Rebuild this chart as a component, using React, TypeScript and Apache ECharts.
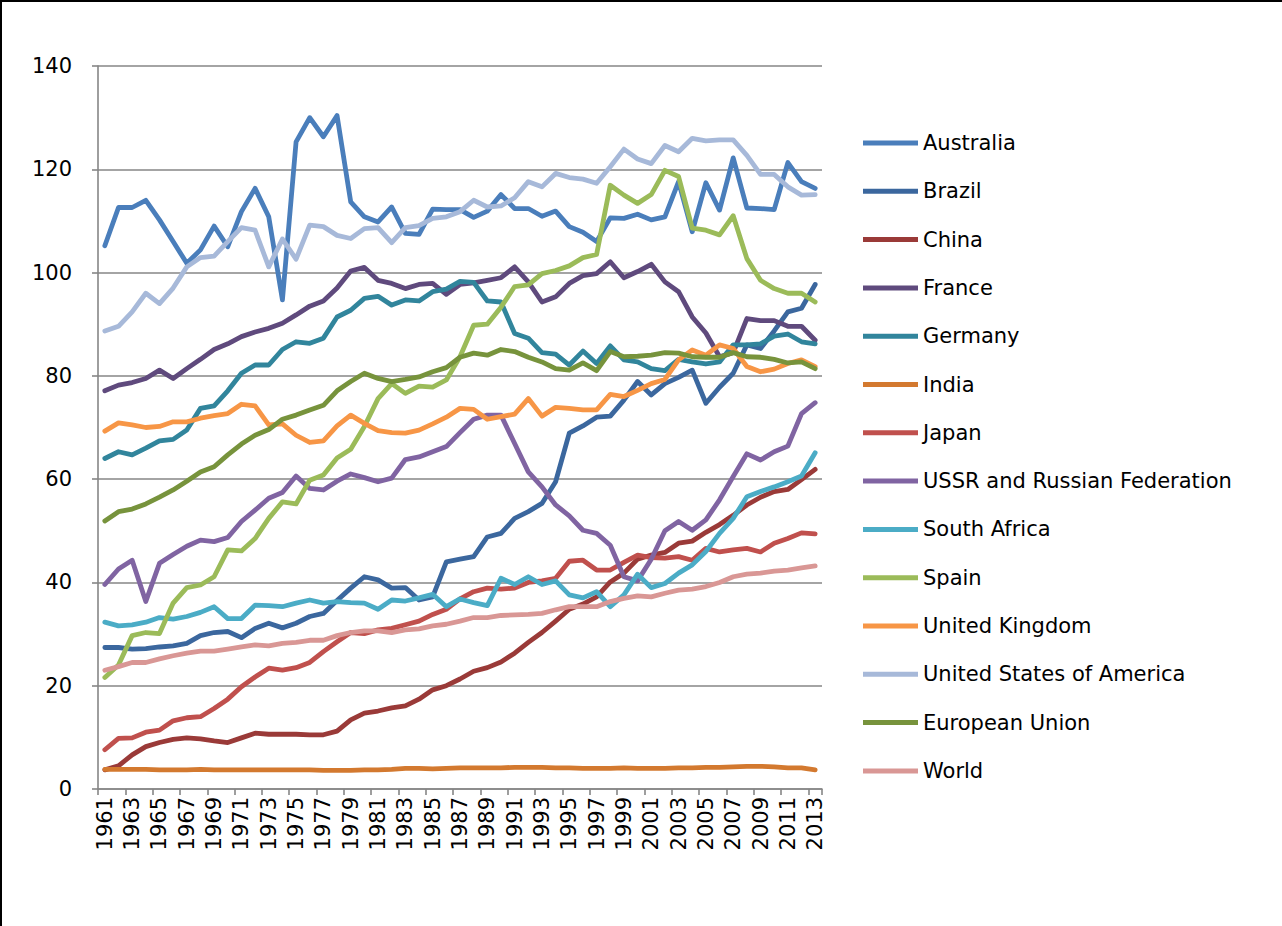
import React, { useEffect, useRef } from "react";
import * as echarts from "echarts";

const years = [
  "1961","1962","1963","1964","1965","1966","1967","1968","1969","1970",
  "1971","1972","1973","1974","1975","1976","1977","1978","1979","1980",
  "1981","1982","1983","1984","1985","1986","1987","1988","1989","1990",
  "1991","1992","1993","1994","1995","1996","1997","1998","1999","2000",
  "2001","2002","2003","2004","2005","2006","2007","2008","2009","2010",
  "2011","2012","2013",
];

const australia = [
  105.2, 112.6, 112.6, 114, 110.2, 106, 101.8, 104.4, 109, 105,
  111.8, 116.3, 110.8, 94.7, 125.3, 130, 126.3, 130.4, 113.7, 110.8,
  109.8, 112.7, 107.6, 107.4, 112.3, 112.2, 112.2, 110.7, 111.9, 115.1,
  112.4, 112.4, 110.9, 111.9, 108.9, 107.8, 106, 110.6, 110.5, 111.3,
  110.2, 110.8, 117.6, 107.9, 117.4, 112.1, 122.2, 112.5, 112.4, 112.2,
  121.3, 117.6, 116.3,
];
const brazil = [
  27.4, 27.4, 27.1, 27.2, 27.5, 27.7, 28.2, 29.7, 30.3, 30.5,
  29.3, 31.1, 32.1, 31.2, 32.1, 33.4, 34, 36.5, 38.9, 41.1,
  40.5, 38.9, 39, 36.6, 37.2, 44, 44.5, 45, 48.8, 49.5,
  52.4, 53.7, 55.3, 59.5, 68.9, 70.3, 72, 72.2, 75.3, 78.9,
  76.3, 78.5, 79.7, 81.1, 74.7, 77.8, 80.5, 86, 85.3, 88.7,
  92.4, 93.1, 97.7,
];
const china = [
  3.7, 4.5, 6.6, 8.2, 9, 9.6, 9.9, 9.7, 9.3, 9,
  9.9, 10.8, 10.6, 10.6, 10.6, 10.5, 10.5, 11.2, 13.4, 14.7,
  15.1, 15.7, 16.1, 17.4, 19.2, 20, 21.3, 22.8, 23.5, 24.6,
  26.3, 28.4, 30.3, 32.5, 34.8, 35.8, 37.2, 40.1, 41.8, 44.5,
  45.3, 45.8, 47.6, 48, 49.7, 51.2, 53, 55, 56.5, 57.6,
  58, 59.9, 61.9,
];
const france = [
  77.1, 78.2, 78.7, 79.5, 81.1, 79.5, 81.4, 83.2, 85.1, 86.2,
  87.6, 88.5, 89.2, 90.2, 91.8, 93.5, 94.5, 97, 100.3, 101,
  98.5, 97.9, 96.9, 97.7, 97.9, 95.8, 97.7, 98, 98.5, 99,
  101.1, 98.2, 94.3, 95.3, 97.9, 99.4, 99.8, 102.1, 99, 100.2,
  101.6, 98.2, 96.3, 91.4, 88.3, 83.7, 84.5, 91.1, 90.7, 90.7,
  89.6, 89.6, 86.9,
];
const germany = [
  64, 65.3, 64.7, 66, 67.4, 67.7, 69.5, 73.7, 74.2, 77.1,
  80.5, 82.1, 82.1, 85.1, 86.6, 86.3, 87.3, 91.4, 92.7, 95,
  95.4, 93.7, 94.7, 94.5, 96.3, 96.8, 98.3, 98.1, 94.5, 94.3,
  88.2, 87.3, 84.5, 84.2, 82.1, 84.8, 82.4, 85.8, 83.1, 82.7,
  81.4, 81, 83.2, 82.7, 82.3, 82.7, 86, 86, 86.2, 87.7,
  88.1, 86.6, 86.2,
];
const india = [
  3.8, 3.8, 3.8, 3.8, 3.7, 3.7, 3.7, 3.8, 3.7, 3.7,
  3.7, 3.7, 3.7, 3.7, 3.7, 3.7, 3.6, 3.6, 3.6, 3.7,
  3.7, 3.8, 4.0, 4.0, 3.9, 4.0, 4.1, 4.1, 4.1, 4.1,
  4.2, 4.2, 4.2, 4.1, 4.1, 4.0, 4.0, 4.0, 4.1, 4.0,
  4.0, 4.0, 4.1, 4.1, 4.2, 4.2, 4.3, 4.4, 4.4, 4.3,
  4.1, 4.1, 3.7,
];
const japan = [
  7.6, 9.8, 9.9, 11, 11.4, 13.2, 13.8, 14, 15.6, 17.4,
  19.8, 21.7, 23.4, 23, 23.5, 24.5, 26.6, 28.5, 30.3, 30.1,
  30.8, 31.1, 31.8, 32.5, 33.8, 34.8, 36.8, 38.2, 38.9, 38.7,
  38.9, 40, 40.3, 40.8, 44.1, 44.3, 42.4, 42.4, 43.9, 45.3,
  44.8, 44.7, 45, 44.3, 46.6, 45.9, 46.3, 46.6, 45.9, 47.6,
  48.5, 49.6, 49.4,
];
const russia = [
  39.6, 42.6, 44.3, 36.3, 43.7, 45.4, 47, 48.2, 47.9, 48.7,
  51.8, 54, 56.3, 57.4, 60.6, 58.2, 57.9, 59.6, 61, 60.3,
  59.5, 60.2, 63.8, 64.3, 65.3, 66.3, 69, 71.6, 72.4, 72.4,
  66.9, 61.4, 58.5, 55, 52.9, 50.1, 49.5, 47.2, 41.1, 40.3,
  44.5, 50, 51.8, 50.1, 52.1, 56, 60.5, 64.9, 63.7, 65.3,
  66.4, 72.7, 74.8,
];
const southAfrica = [
  32.3, 31.6, 31.8, 32.3, 33.2, 32.9, 33.4, 34.2, 35.3, 33,
  33, 35.6, 35.5, 35.3, 36, 36.6, 36, 36.3, 36.1, 36,
  34.8, 36.6, 36.4, 37, 37.7, 35.3, 36.8, 36.1, 35.5, 40.8,
  39.6, 41.1, 39.6, 40.3, 37.6, 37, 38.2, 35.3, 37.6, 41.6,
  39, 39.8, 41.8, 43.4, 46, 49.5, 52.4, 56.6, 57.6, 58.5,
  59.5, 60.6, 65.1,
];
const spain = [
  21.6, 24, 29.7, 30.3, 30.1, 36, 39, 39.5, 41.1, 46.3,
  46.1, 48.5, 52.4, 55.6, 55.2, 59.8, 60.8, 64.1, 65.8, 70.2,
  75.6, 78.5, 76.6, 78, 77.8, 79.2, 83.7, 89.8, 90, 93.3,
  97.3, 97.6, 99.8, 100.4, 101.3, 102.9, 103.5, 116.9, 115, 113.4,
  115.1, 119.8, 118.6, 108.6, 108.2, 107.3, 111, 102.7, 98.5, 96.9,
  96, 96, 94.3,
];
const uk = [
  69.3, 70.9, 70.5, 70, 70.2, 71.1, 71.1, 71.8, 72.3, 72.7,
  74.5, 74.2, 70.5, 70.7, 68.5, 67.1, 67.4, 70.3, 72.4, 70.8,
  69.4, 69, 68.9, 69.5, 70.7, 72, 73.7, 73.5, 71.6, 72.1,
  72.6, 75.6, 72.2, 73.9, 73.7, 73.4, 73.4, 76.4, 76, 77.2,
  78.5, 79.3, 83.1, 85, 84, 86, 85.3, 81.8, 80.8, 81.3,
  82.4, 83.1, 81.8,
];
const usa = [
  88.7, 89.6, 92.4, 96, 94, 97, 101.1, 102.9, 103.2, 106,
  108.7, 108.2, 101.1, 106.5, 102.6, 109.2, 108.9, 107.2, 106.6, 108.5,
  108.7, 105.8, 108.7, 109.1, 110.5, 110.8, 111.8, 114, 112.7, 112.9,
  114.5, 117.6, 116.6, 119.2, 118.4, 118.1, 117.3, 120.5, 123.9, 122,
  121.1, 124.6, 123.4, 126, 125.5, 125.7, 125.7, 122.7, 119, 119,
  116.6, 115, 115.1,
];
const eu = [
  51.9, 53.7, 54.2, 55.2, 56.5, 57.9, 59.6, 61.4, 62.4, 64.7,
  66.8, 68.5, 69.6, 71.6, 72.4, 73.4, 74.3, 77.1, 78.9, 80.5,
  79.5, 78.9, 79.3, 79.8, 80.8, 81.6, 83.6, 84.4, 84, 85.1,
  84.7, 83.6, 82.7, 81.4, 81.1, 82.5, 81, 84.7, 83.7, 83.8,
  84, 84.5, 84.4, 83.7, 83.6, 83.6, 84.5, 83.7, 83.6, 83.2,
  82.5, 82.7, 81.4,
];
const world = [
  23, 23.7, 24.5, 24.5, 25.2, 25.8, 26.3, 26.7, 26.7, 27.1,
  27.5, 27.9, 27.7, 28.2, 28.4, 28.8, 28.8, 29.7, 30.3, 30.6,
  30.6, 30.3, 30.8, 31, 31.6, 31.9, 32.5, 33.2, 33.2, 33.6,
  33.7, 33.8, 34, 34.7, 35.3, 35.3, 35.3, 36.3, 36.9, 37.4,
  37.2, 37.9, 38.5, 38.7, 39.2, 40, 41.1, 41.6, 41.8, 42.2,
  42.4, 42.8, 43.2,
];

const seriesNames = [
  "Australia", "Brazil", "China", "France", "Germany", "India", "Japan",
  "USSR and Russian Federation", "South Africa", "Spain", "United Kingdom",
  "United States of America", "European Union", "World",
];
const seriesData = [
  australia, brazil, china, france, germany, india, japan,
  russia, southAfrica, spain, uk, usa, eu, world,
];
const seriesColors = [
  "#4A7EBB", "#3B679E", "#9A3A38", "#5F4A7D", "#31859C", "#D3792F", "#C0504D",
  "#8064A2", "#4BACC6", "#9BBB59", "#F79646", "#A7B9D9", "#77933C", "#D99795",
];

const yTicks = { min: 0, max: 140, interval: 20 };

export default function App() {
  const ref = useRef<HTMLDivElement>(null);
  useEffect(() => {
    const chart = echarts.init(ref.current!, null, { renderer: "svg" });
    const font = "DejaVu Sans";
    const axisColor = "#868686";
    chart.setOption({
      animation: false,
      backgroundColor: "#ffffff",
      color: seriesColors,
      grid: { left: 98, right: 460, top: 66, bottom: 137, containLabel: false },
      legend: {
        orient: "vertical",
        left: 858,
        top: 126,
        icon: "rect",
        itemWidth: 55,
        itemHeight: 5,
        itemGap: 24.3,
        textStyle: { fontFamily: font, fontSize: 21, color: "#000", lineHeight: 24 },
        data: seriesNames,
      },
      xAxis: {
        type: "category",
        data: years,
        boundaryGap: true,
        axisLine: { show: true, lineStyle: { color: axisColor, width: 1.6 } },
        axisTick: { show: true, interval: 1, length: 6, lineStyle: { color: axisColor, width: 1.6 } },
        axisLabel: {
          interval: 1,
          rotate: 90,
          margin: 8,
          fontFamily: font,
          fontSize: 21,
          color: "#000",
        },
        splitLine: { show: false },
      },
      yAxis: {
        type: "value",
        min: yTicks.min,
        max: yTicks.max,
        interval: yTicks.interval,
        axisLine: { show: true, lineStyle: { color: axisColor, width: 1.6 } },
        axisTick: { show: true, length: 6, lineStyle: { color: axisColor, width: 1.6 } },
        axisLabel: { margin: 26, fontFamily: font, fontSize: 21, color: "#000" },
        splitLine: { show: true, lineStyle: { color: axisColor, width: 1.6 } },
      },
      graphic: [
        { type: "line", shape: { x1: 1, y1: 0, x2: 1, y2: 926 }, style: { stroke: "#000", lineWidth: 2 } },
        { type: "line", shape: { x1: 0, y1: 1, x2: 1282, y2: 1 }, style: { stroke: "#000", lineWidth: 2 } },
      ],
      series: seriesNames.map((name, i) => ({
        name,
        type: "line",
        data: seriesData[i],
        symbol: "none",
        showSymbol: false,
        lineStyle: { width: 4.8, color: seriesColors[i], cap: "round", join: "round" },
        itemStyle: { color: seriesColors[i] },
      })),
    });
    return () => chart.dispose();
  }, []);
  return (
    <div
      ref={ref}
      style={{ position: "fixed", left: 0, top: 0, width: 1282, height: 926, background: "#fff" }}
    />
  );
}
